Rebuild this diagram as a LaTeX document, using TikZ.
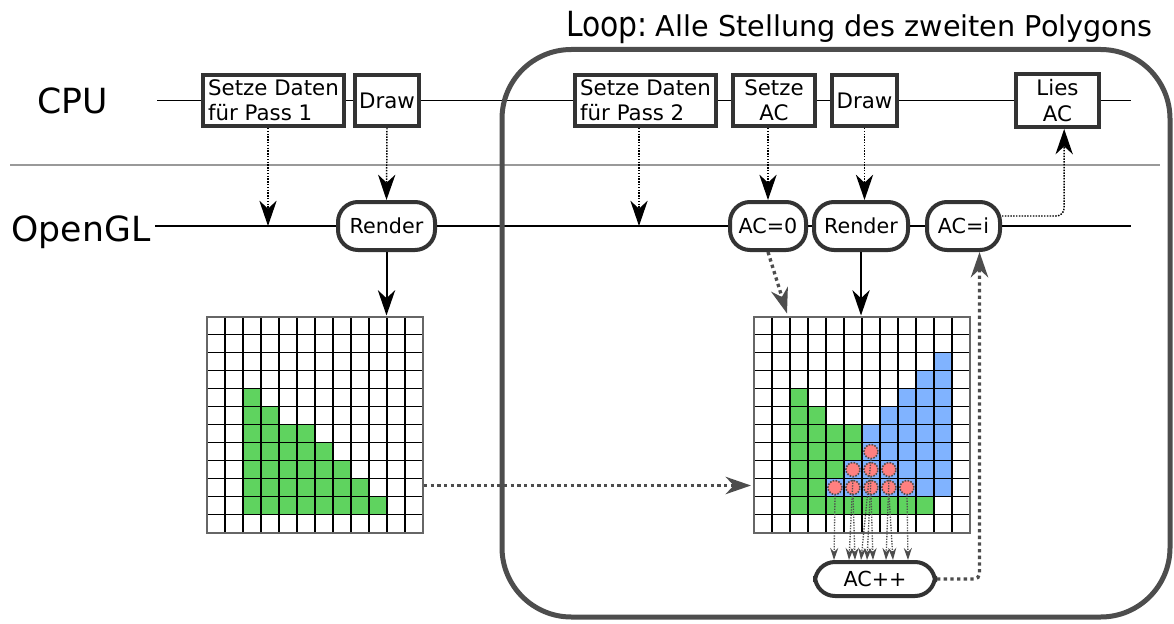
\documentclass[tikz,border=0pt]{standalone}
\usepackage{fontspec}
\setmainfont{DejaVu Sans}
\newfontfamily\condfont[FakeStretch=0.86]{DejaVu Sans}
\usetikzlibrary{positioning,arrows.meta}

\definecolor{boxgray}{HTML}{333333}
\definecolor{loopgray}{HTML}{4D4D4D}
\definecolor{sepgray}{HTML}{999999}
\definecolor{gridgray}{HTML}{666666}
\definecolor{polygreen}{HTML}{5FD35F}
\definecolor{polyblue}{HTML}{80B3FF}
\definecolor{hitred}{HTML}{FF8080}

\begin{document}
\begin{tikzpicture}[
    x=0.75pt, y=-0.75pt,
    cpubox/.style={draw=boxgray, line width=3pt, fill=white, minimum height=38.25pt, inner sep=2pt, align=left, font=\fontsize{16}{19}\selectfont},
    glnode/.style={draw=boxgray, line width=3pt, fill=white, rounded corners=15pt, minimum height=36pt, inner sep=2pt, font=\fontsize{15.5}{18}\selectfont},
    lane/.style={font=\fontsize{26}{30}\selectfont, inner sep=0pt, anchor=base},
    timeline/.style={line width=1.2pt},
    sepline/.style={line width=1.5pt, sepgray},
    cmd/.style={densely dotted, line width=1.1pt, -{Stealth[length=19pt,width=13pt,inset=6pt]}},
    flow/.style={line width=1.5pt, -{Stealth[length=19pt,width=13pt,inset=6pt]}},
    feed/.style={loopgray, line width=2.5pt, dash pattern=on 2.5pt off 2.5pt, -{Stealth[length=19pt,width=13pt,inset=6pt]}},
    tally/.style={loopgray, line width=1pt, densely dotted, -{Stealth[length=9pt,width=6pt,inset=3pt]}},
    gridline/.style={black, line width=0.8pt},
    gridframe/.style={draw=gridgray, line width=1.5pt, minimum size=162pt, inner sep=0pt},
    hit/.style={circle, fill=hitred, draw=loopgray, densely dotted, line width=1.2pt, minimum size=10.5pt, inner sep=0pt},
    loopbox/.style={loopgray, line width=3.75pt, rounded corners=52pt}
]
\useasboundingbox (0,0) rectangle (1174,624);

% Lanes
\node[lane] (cpu) at (72.5,114) {CPU};
\node[lane] (gl) at (81,241) {OpenGL};
\coordinate (sepL) at (10,165);
\coordinate (sepR) at (1160,165);
\draw[sepline] (sepL) -- (sepR);

% CPU side
\node[cpubox, minimum width=105.75pt] (s1) at (273.5,100.5) {Setze Daten\\für Pass 1};
\node[cpubox, minimum width=48pt] (draw1) at (387,100.5) {Draw};
\node[cpubox, minimum width=105.75pt] (s2) at (645.5,100.5) {Setze Daten\\für Pass 2};
\node[cpubox, minimum width=61.5pt, align=center] (setac) at (774,100.5) {Setze\\AC};
\node[cpubox, minimum width=48.75pt] (draw2) at (864.5,100.5) {Draw};
\node[cpubox, minimum width=62.25pt, minimum height=39.75pt, align=center] (lies) at (1057.5,100.5) {Lies\\AC};
\coordinate (cpuL) at (157,100.5);
\coordinate (cpuR) at (1131,100.5);
\draw[timeline] (cpuL) -- (s1) -- (draw1) -- (s2) -- (setac) -- (draw2) -- (lies) -- (cpuR);

% OpenGL side
\node[glnode, minimum width=72.75pt] (render1) at (386.5,226) {Render};
\node[glnode, minimum width=57pt] (ac0) at (768,226) {AC=0};
\node[glnode, minimum width=70.5pt] (render2) at (861,226) {Render};
\node[glnode, minimum width=54.75pt] (aci) at (963.5,226) {AC=i};
\coordinate (glL) at (155,226);
\coordinate (glR) at (1131,226);
\coordinate (p1) at (268,226);
\coordinate (p2) at (639,226);
\draw[timeline] (glL) -- (render1) -- (ac0) -- (render2) -- (aci) -- (glR);

% Calls from CPU to OpenGL
\draw[cmd] (s1.south -| p1) -- (p1);
\draw[cmd] (draw1.south) -- (render1.north);
\draw[cmd] (s2.south -| p2) -- (p2);
\draw[cmd] (setac.south -| ac0) -- (ac0.north);
\draw[cmd] (draw2.south) -- (draw2.south |- render2.north);
\draw[cmd, rounded corners=6pt] ([yshift=7.5pt]aci.east) -| ([xshift=5pt]lies.south);

% First polygon
\begin{scope}[shift={(207,316.5)}]
  \foreach \r/\e in {4/2,5/3,6/5,7/6,8/7,9/8,10/9}
    \fill[polygreen] (36,\r*18) rectangle ({(\e+1)*18},{(\r+1)*18});
  \foreach \k in {1,...,11} {
    \draw[gridline] (\k*18,0) -- (\k*18,216);
    \draw[gridline] (0,\k*18) -- (216,\k*18);
  }
\end{scope}
\node[gridframe] (g1) at (315,424.5) {};

% Second polygon over the first
\begin{scope}[shift={(754,316.5)}]
  \foreach \r/\e in {4/2,5/3,6/5,7/6,8/7,9/8,10/9}
    \fill[polygreen] (36,\r*18) rectangle ({(\e+1)*18},{(\r+1)*18});
  \foreach \r/\s in {2/10,3/9,4/8,5/7,6/6,7/6,8/5,9/4}
    \fill[polyblue] (\s*18,\r*18) rectangle (198,{(\r+1)*18});
  \foreach \k in {1,...,11} {
    \draw[gridline] (\k*18,0) -- (\k*18,216);
    \draw[gridline] (0,\k*18) -- (216,\k*18);
  }
  \foreach \c/\r in {6/7,5/8,6/8,7/8,4/9,5/9,6/9,7/9,8/9}
    \node[hit] (d\c\r) at ({(\c+0.5)*18},{(\r+0.5)*18}) {};
\end{scope}
\node[gridframe] (g2) at (862,424.5) {};

% Render into the grids
\draw[flow] (render1.south) -- (render1.south |- g1.north);
\draw[flow] (render2.south) -- (render2.south |- g2.north);
\draw[feed] (ac0.south) -- ([xshift=25.5pt,yshift=1.5pt]g2.north west);
\draw[feed] ([yshift=-45.75pt]g1.east) -- ([xshift=-1.5pt,yshift=-45.75pt]g2.west);

% Counter
\node[glnode, minimum width=90pt, minimum height=25.5pt] (acpp) at (875,579) {AC++};
\foreach \c/\r/\o in {4/9/-0.75,5/8/-3,5/9/1.5,6/7/-7.5,6/8/-3,6/9/1.5,7/8/-2.25,7/9/3,8/9/0.75}
  \draw[tally] (d\c\r.south) -- ([xshift=\o pt]d\c\r.south |- acpp.north);
\draw[feed, rounded corners=4pt] (acpp.east) -| ([xshift=12pt]aci.south);

% Loop
\draw[loopbox] (502,49.5) rectangle (1170,617);
\node[anchor=base west, inner sep=0pt] (title) at (566,37)
  {{\condfont\fontsize{26}{30}\selectfont Loop:}\hspace{6pt}{\fontsize{21.5}{24}\selectfont Alle Stellung des zweiten Polygons}};

\end{tikzpicture}
\end{document}
